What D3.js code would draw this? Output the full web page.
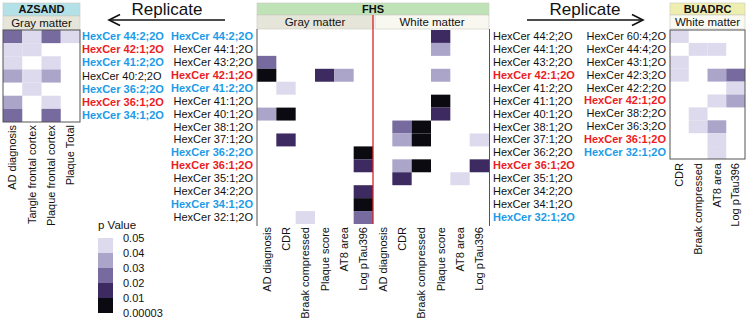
<!DOCTYPE html>
<html>
<head>
<meta charset="utf-8">
<script src="https://cdn.jsdelivr.net/npm/d3@7"></script>
<style>
  body { margin: 0; background: #fff; }
  text { font-family: "Liberation Sans", Arial, Helvetica, sans-serif; }
</style>
</head>
<body>
<svg id="chart" width="750" height="324"></svg>
<script>
// ---- data: p values per cell (null = not significant) ----
const azsandCols = ["AD diagnosis", "Tangle frontal cortex", "Plaque frontal cortex", "Plaque Total"];
const azsandRows = ["HexCer 44:2;2O", "HexCer 42:1;2O", "HexCer 41:2;2O", "HexCer 40:2;2O",
  "HexCer 36:2;2O", "HexCer 36:1;2O", "HexCer 34:1;2O"];
const azsandMark = ["b", "r", "b", "", "b", "r", "b"];
const azsandP = [
  [0.025, 0.045, 0.025, 0.045],
  [0.045, 0.045, null, null],
  [0.045, null, 0.045, null],
  [0.035, 0.045, 0.035, null],
  [null, 0.045, null, null],
  [0.035, null, 0.045, null],
  [0.025, null, 0.025, null]
];

const fhsCols = ["AD diagnosis", "CDR", "Braak compressed", "Plaque score", "AT8 area", "Log pTau396"];
const fhsRows = ["HexCer 44:2;2O", "HexCer 44:1;2O", "HexCer 43:2;2O", "HexCer 42:1;2O", "HexCer 41:2;2O",
  "HexCer 41:1;2O", "HexCer 40:1;2O", "HexCer 38:1;2O", "HexCer 37:1;2O", "HexCer 36:2;2O",
  "HexCer 36:1;2O", "HexCer 35:1;2O", "HexCer 34:2;2O", "HexCer 34:1;2O", "HexCer 32:1;2O"];
const fhsGrayMark = ["b", "", "", "r", "b", "", "", "", "", "b", "r", "", "", "b", ""];
const fhsWhiteMark = ["", "", "", "r", "", "", "", "", "", "", "r", "", "", "", "b"];
const fhsGrayP = [
  [null, null, null, null, null, null],
  [null, null, null, null, null, null],
  [0.025, null, null, null, null, null],
  [0.005, null, null, 0.015, 0.035, null],
  [null, 0.045, null, null, null, null],
  [null, null, null, null, null, null],
  [0.035, 0.005, null, null, null, null],
  [null, null, null, null, null, null],
  [null, 0.015, null, null, null, null],
  [null, null, null, null, null, 0.005],
  [null, null, null, null, null, 0.015],
  [null, null, null, null, null, null],
  [null, null, null, null, null, 0.015],
  [null, null, null, null, null, 0.005],
  [null, null, 0.045, null, null, 0.025]
];
const fhsWhiteP = [
  [null, null, null, 0.015, null, null],
  [null, null, null, 0.035, null, null],
  [null, null, null, null, null, null],
  [null, null, null, 0.035, null, null],
  [null, null, null, null, null, null],
  [null, null, null, 0.005, null, null],
  [null, null, null, 0.015, null, null],
  [null, 0.025, 0.005, null, null, null],
  [null, 0.035, 0.005, null, null, 0.045],
  [null, null, null, null, null, null],
  [null, 0.035, 0.005, null, null, 0.015],
  [null, 0.015, null, null, 0.045, null],
  [null, null, null, null, null, null],
  [null, null, null, null, null, null],
  [null, null, null, null, null, null]
];

const buadrcCols = ["CDR", "Braak compressed", "AT8 area", "Log pTau396"];
const buadrcRows = ["HexCer 60:4;2O", "HexCer 44:4;2O", "HexCer 43:1;2O", "HexCer 42:3;2O", "HexCer 42:2;2O",
  "HexCer 42:1;2O", "HexCer 38:2;2O", "HexCer 36:3;2O", "HexCer 36:1;2O", "HexCer 32:1;2O"];
const buadrcMark = ["", "", "", "", "", "r", "", "", "r", "b"];
const buadrcP = [
  [0.045, null, null, null],
  [null, 0.045, 0.045, null],
  [0.045, null, null, null],
  [0.045, null, 0.035, 0.025],
  [null, null, null, 0.045],
  [null, null, 0.045, 0.035],
  [null, 0.045, null, null],
  [null, 0.045, 0.035, null],
  [null, null, 0.045, null],
  [null, null, 0.045, null]
];

const legendBreaks = [0.05, 0.04, 0.03, 0.02, 0.01, 0.00003];
const legendLabels = ["0.05", "0.04", "0.03", "0.02", "0.01", "0.00003"];

// ---- drawing ----
const svg = d3.select("#chart");
const color = d3.scaleThreshold()
  .domain([0.01, 0.02, 0.03, 0.04, 0.05])
  .range(["#0b0a10", "#3d2a60", "#766a9f", "#aba5ca", "#dcdaec", "none"]);
const markColor = { b: "#1c9be8", r: "#ec1c24", "": "#111" };
const FS = 11;

function heat(p, rows, cols, x0, x1, y0, y1) {
  const x = d3.scaleBand().domain(cols).range([x0, x1]);
  const y = d3.scaleBand().domain(rows).range([y0, y1]);
  const cells = [];
  p.forEach((r, i) => r.forEach((v, j) => { if (v != null) cells.push({ row: rows[i], col: cols[j], v }); }));
  svg.append("g").selectAll("rect").data(cells).join("rect")
    .attr("x", d => x(d.col)).attr("y", d => y(d.row))
    .attr("width", x.bandwidth()).attr("height", y.bandwidth())
    .attr("fill", d => color(d.v));
  return { x, y };
}

function rowLabels(y, marks, xPos, side) {
  const ax = side === "left" ? d3.axisLeft(y) : d3.axisRight(y);
  const g = svg.append("g").attr("transform", `translate(${xPos},0)`)
    .call(ax.tickSize(0).tickPadding(3));
  g.select(".domain").remove();
  g.selectAll("text")
    .attr("font-size", FS)
    .attr("font-family", '"Liberation Sans", Arial, sans-serif')
    .attr("fill", (d, i) => markColor[marks[i]])
    .attr("font-weight", (d, i) => marks[i] ? "bold" : "normal");
}

function colLabels(x, yPos) {
  const g = svg.append("g").attr("transform", `translate(0,${yPos})`)
    .call(d3.axisBottom(x).tickSize(0));
  g.select(".domain").remove();
  g.selectAll("text")
    .attr("font-size", FS)
    .attr("font-family", '"Liberation Sans", Arial, sans-serif')
    .attr("fill", "#111")
    .attr("transform", "rotate(-90)")
    .attr("text-anchor", "end")
    .attr("x", -3).attr("y", 0).attr("dy", "0.35em");
}

function band(x, y, w, h, fill, label, bold) {
  svg.append("rect").attr("x", x).attr("y", y).attr("width", w).attr("height", h)
    .attr("fill", fill).attr("stroke", "#c8c8c0").attr("stroke-width", 0.6);
  svg.append("text").attr("x", x + w / 2).attr("y", y + h / 2).attr("dy", "0.36em")
    .attr("text-anchor", "middle").attr("font-size", bold ? 11 : 11.5)
    .attr("font-weight", bold ? "bold" : "normal").attr("fill", "#111").text(label);
}

function arrow(xa, xb, y, dir, label) {
  svg.append("line").attr("x1", xa).attr("x2", xb).attr("y1", y).attr("y2", y)
    .attr("stroke", "#111").attr("stroke-width", 1.5);
  const tip = dir < 0 ? xa : xb;
  svg.append("path")
    .attr("d", `M${tip - dir * 11},${y - 5.5}L${tip},${y}L${tip - dir * 11},${y + 5.5}`)
    .attr("fill", "none").attr("stroke", "#111").attr("stroke-width", 1.6);
  svg.append("text").attr("x", (xa + xb) / 2).attr("y", y - 5)
    .attr("text-anchor", "middle").attr("font-size", 17).attr("fill", "#111").text(label);
}

// AZSAND
band(3, 3, 77, 13, "#b4e1e7", "AZSAND", true);
band(3, 16, 77, 14, "#e6e5d9", "Gray matter", false);
const az = heat(azsandP, azsandRows, azsandCols, 3, 80, 30, 122);
svg.append("rect").attr("x", 3).attr("y", 30).attr("width", 77).attr("height", 92)
  .attr("fill", "none").attr("stroke", "#555").attr("stroke-width", 1);
rowLabels(az.y, azsandMark, 79, "right");
colLabels(az.x, 122);

// FHS
band(257, 3, 232, 12, "#bfe3b6", "FHS", true);
band(257, 15, 116, 14, "#e6e5d9", "Gray matter", false);
band(375, 15, 114, 14, "#f8f8f1", "White matter", false);
const fg = heat(fhsGrayP, fhsRows, fhsCols, 257, 373, 30, 224);
const fwCols = fhsCols.map(c => c + " ");
const fw = heat(fhsWhiteP, fhsRows, fwCols, 373, 489, 30, 224);
[257, 489.5].forEach(xx => svg.append("line").attr("x1", xx).attr("x2", xx).attr("y1", 29).attr("y2", 226)
  .attr("stroke", "#555").attr("stroke-width", 1));
svg.append("line").attr("x1", 373).attr("x2", 373).attr("y1", 15).attr("y2", 224)
  .attr("stroke", "#d9242a").attr("stroke-width", 1.3);
rowLabels(fg.y, fhsGrayMark, 256, "left");
rowLabels(fw.y, fhsWhiteMark, 490, "right");
colLabels(fg.x, 224);
colLabels(fw.x, 224);

// BUADRC
band(670, 3, 75, 12, "#eeeeb0", "BUADRC", true);
band(670, 15, 75, 14, "#fafaf3", "White matter", false);
const bu = heat(buadrcP, buadrcRows, buadrcCols, 670, 745, 30, 159);
svg.append("rect").attr("x", 670).attr("y", 30).attr("width", 75).attr("height", 129)
  .attr("fill", "none").attr("stroke", "#555").attr("stroke-width", 1);
rowLabels(bu.y, buadrcMark, 669, "left");
colLabels(bu.x, 160);

// arrows
arrow(109, 225, 20, -1, "Replicate");
arrow(527, 643, 20, 1, "Replicate");

// legend
const ly = d3.scaleLinear().domain([0, legendBreaks.length - 1]).range([238, 313]);
svg.append("text").attr("x", 98).attr("y", 229).attr("font-size", 11.5).attr("fill", "#111").text("p Value");
svg.append("g").selectAll("rect").data(legendBreaks.slice(0, -1)).join("rect")
  .attr("x", 98).attr("y", (d, i) => ly(i)).attr("width", 15).attr("height", ly(1) - ly(0))
  .attr("fill", d => color(d - 0.005));
svg.append("g").selectAll("text").data(legendLabels).join("text")
  .attr("x", 123).attr("y", (d, i) => ly(i)).attr("dy", "0.35em")
  .attr("font-size", 11).attr("fill", "#111").text(d => d);
</script>
</body>
</html>
